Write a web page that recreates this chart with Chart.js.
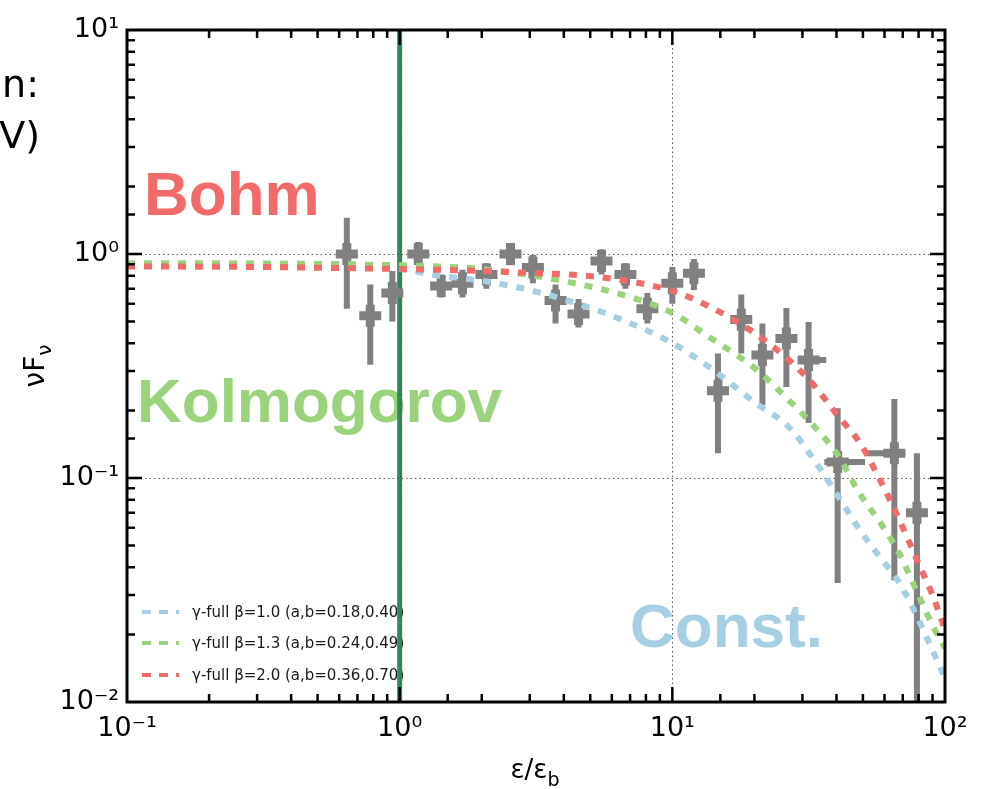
<!DOCTYPE html>
<html><head><meta charset="utf-8">
<script src="https://cdn.jsdelivr.net/npm/chart.js@4.4.1/dist/chart.umd.min.js"></script>
<style>html,body{margin:0;padding:0;background:#fff}#wrap{width:987px;height:789px;position:relative}</style>
</head><body><div id="wrap"><canvas id="c" width="987" height="789"></canvas></div>
<script>
// ---- measured data points (ε/ε_b , νFν) ----
const dataX   = [0.64, 0.78, 0.94, 1.17, 1.42, 1.70, 2.08, 2.55, 3.08, 3.73, 4.53, 5.5, 6.73, 8.1, 10.0, 12.0, 14.7, 17.9, 21.4, 26.2, 31.6, 40.4, 65.2, 78.9];
const dataY   = [1.00, 0.53, 0.67, 1.00, 0.72, 0.74, 0.81, 1.00, 0.87, 0.62, 0.54, 0.93, 0.81, 0.57, 0.74, 0.82, 0.245, 0.51, 0.354, 0.42, 0.336, 0.118, 0.129, 0.070];
const dataYLo = [0.57, 0.32, 0.50, 0.91, 0.64, 0.64, 0.70, 0.89, 0.74, 0.49, 0.47, 0.81, 0.70, 0.49, 0.60, 0.69, 0.129, 0.36, 0.212, 0.255, 0.176, 0.034, 0.035, 0.005];
const dataYHi = [1.45, 0.73, 0.84, 1.13, 0.81, 0.85, 0.91, 1.11, 0.99, 0.73, 0.63, 1.05, 0.91, 0.67, 0.875, 0.95, 0.36, 0.66, 0.49, 0.574, 0.497, 0.205, 0.225, 0.129];
const dataXLo = [0.59, 0.72, 0.87, 1.08, 1.31, 1.57, 1.92, 2.35, 2.84, 3.44, 4.18, 5.07, 6.21, 7.47, 9.22, 11.1, 13.6, 16.5, 19.7, 24.2, 29.2, 36.1, 50.9, 72.8];
const dataXHi = [0.69, 0.84, 1.02, 1.27, 1.54, 1.84, 2.25, 2.76, 3.34, 4.04, 4.91, 5.96, 7.29, 8.78, 10.8, 13.0, 15.9, 19.4, 23.2, 28.4, 36.7, 50.9, 71.5, 85.5];

// ---- model curves ----
const curveX      = [0.1, 0.3, 0.6, 1.0, 1.4, 2.0, 3.0, 4.5, 6.5, 10, 14, 20, 27, 33, 40, 49, 58, 68, 79, 90, 100];
const curveBeta10 = [0.907, 0.905, 0.90, 0.86, 0.80, 0.76, 0.69, 0.60, 0.51, 0.40, 0.306, 0.218, 0.167, 0.121, 0.085, 0.058, 0.044, 0.034, 0.024, 0.017, 0.0128];
const curveBeta13 = [0.907, 0.906, 0.90, 0.89, 0.88, 0.857, 0.806, 0.735, 0.66, 0.545, 0.417, 0.31, 0.22, 0.171, 0.129, 0.084, 0.063, 0.046, 0.031, 0.022, 0.0174];
const curveBeta20 = [0.88, 0.875, 0.866, 0.857, 0.85, 0.84, 0.823, 0.806, 0.765, 0.684, 0.574, 0.444, 0.333, 0.26, 0.193, 0.142, 0.097, 0.065, 0.043, 0.030, 0.021];

const seriesLabels = ['γ-full β=1.0 (a,b=0.18,0.40)', 'γ-full β=1.3 (a,b=0.24,0.49)', 'γ-full β=2.0 (a,b=0.36,0.70)'];
const seriesColors = ['#a6cfe4', '#9bd27c', '#f26a6a'];
const annotTexts   = ['Bohm', 'Kolmogorov', 'Const.'];
const breakValue   = 1.0;
const gridXValues  = [1, 10];
const gridYValues  = [0.1, 1];
const decadeLabels = {'-2':'10⁻²','-1':'10⁻¹','0':'10⁰','1':'10¹','2':'10²'};

function decLabel(v){
  const l = Math.log10(v), r = Math.round(l);
  if (Math.abs(l - r) < 1e-6 && decadeLabels[String(r)] !== undefined) return decadeLabels[String(r)];
  return '';
}

const deco = {
  id: 'deco',
  beforeDatasetsDraw(chart){
    const {ctx, chartArea:a, scales:{x, y}} = chart;
    ctx.save();
    // big annotation words
    ctx.font = 'bold 62px "Liberation Sans", Arial, sans-serif';
    ctx.textAlign = 'left'; ctx.textBaseline = 'alphabetic';
    ctx.fillStyle = seriesColors[2]; ctx.fillText(annotTexts[0], a.left + 17, 215);
    ctx.fillStyle = seriesColors[1]; ctx.fillText(annotTexts[1], a.left + 10, 422);
    ctx.fillStyle = seriesColors[0]; ctx.fillText(annotTexts[2], a.left + 503, 647);

    // legend (lower left, no frame)
    ctx.font = '15px "DejaVu Sans", sans-serif';
    ctx.textBaseline = 'middle';
    const rows = [612, 643, 675];
    seriesLabels.forEach((lab, i) => {
      ctx.strokeStyle = seriesColors[i]; ctx.lineWidth = 4; ctx.setLineDash([9, 8]);
      ctx.beginPath(); ctx.moveTo(a.left + 15, rows[i]); ctx.lineTo(a.left + 52, rows[i]); ctx.stroke();
      ctx.setLineDash([]);
      ctx.fillStyle = '#1a1a1a'; ctx.fillText(lab, a.left + 65, rows[i] + 1);
    });

    // vertical break line
    const bx = x.getPixelForValue(breakValue);
    ctx.strokeStyle = '#2e8b57'; ctx.lineWidth = 5;
    ctx.beginPath(); ctx.moveTo(bx, a.top); ctx.lineTo(bx, a.bottom); ctx.stroke();

    // dotted grid at decades
    ctx.strokeStyle = '#555'; ctx.lineWidth = 1; ctx.setLineDash([1.5, 3]);
    gridXValues.forEach(v => { const p = Math.round(x.getPixelForValue(v)) + 0.5;
      ctx.beginPath(); ctx.moveTo(p, a.top); ctx.lineTo(p, a.bottom); ctx.stroke(); });
    gridYValues.forEach(v => { const p = Math.round(y.getPixelForValue(v)) + 0.5;
      ctx.beginPath(); ctx.moveTo(a.left, p); ctx.lineTo(a.right, p); ctx.stroke(); });
    ctx.setLineDash([]);

    // error bars
    ctx.beginPath(); ctx.rect(a.left, a.top, a.right - a.left, a.bottom - a.top); ctx.clip();
    ctx.strokeStyle = '#808080'; ctx.lineWidth = 6; ctx.lineCap = 'butt';
    dataX.forEach((xv, i) => {
      const px = x.getPixelForValue(xv), py = y.getPixelForValue(dataY[i]);
      ctx.beginPath();
      ctx.moveTo(px, y.getPixelForValue(dataYHi[i])); ctx.lineTo(px, y.getPixelForValue(dataYLo[i]));
      ctx.moveTo(x.getPixelForValue(dataXLo[i]), py); ctx.lineTo(x.getPixelForValue(dataXHi[i]), py);
      ctx.stroke();
    });
    ctx.restore();
  },
  afterDraw(chart){
    const {ctx, chartArea:a, scales:{x, y}} = chart;
    ctx.save();
    // inside ticks on all four sides
    ctx.strokeStyle = '#000'; ctx.lineWidth = 2.5;
    x.ticks.forEach(t => {
      const v = t.value; if (v <= x.min * 1.0001 || v >= x.max * 0.9999) return;
      const maj = decLabel(v) !== ''; const L = maj ? 15 : 8; const p = x.getPixelForValue(v);
      ctx.beginPath(); ctx.moveTo(p, a.bottom); ctx.lineTo(p, a.bottom - L);
      ctx.moveTo(p, a.top); ctx.lineTo(p, a.top + L); ctx.stroke();
    });
    y.ticks.forEach(t => {
      const v = t.value; if (v <= y.min * 1.0001 || v >= y.max * 0.9999) return;
      const maj = decLabel(v) !== ''; const L = maj ? 15 : 8; const p = y.getPixelForValue(v);
      ctx.beginPath(); ctx.moveTo(a.left, p); ctx.lineTo(a.left + L, p);
      ctx.moveTo(a.right, p); ctx.lineTo(a.right - L, p); ctx.stroke();
    });
    // frame
    ctx.lineWidth = 3;
    ctx.strokeRect(a.left, a.top, a.right - a.left, a.bottom - a.top);

    // axis titles
    ctx.fillStyle = '#000';
    ctx.font = '26px "DejaVu Sans", sans-serif';
    ctx.textAlign = 'left'; ctx.textBaseline = 'alphabetic';
    const xt = 'ε/ε', xs = 'b';
    const w1 = ctx.measureText(xt).width;
    ctx.font = '19px "DejaVu Sans", sans-serif';
    const w2 = ctx.measureText(xs).width;
    const cx = (a.left + a.right) / 2 - 1;
    ctx.font = '26px "DejaVu Sans", sans-serif';
    ctx.fillText(xt, cx - (w1 + w2) / 2, 778);
    ctx.font = '19px "DejaVu Sans", sans-serif';
    ctx.fillText(xs, cx - (w1 + w2) / 2 + w1, 786);

    ctx.save();
    ctx.translate(44, 366); ctx.rotate(-Math.PI / 2);
    ctx.font = '28px "DejaVu Sans", sans-serif';
    const yt = 'νF', ys = 'ν';
    const yw1 = ctx.measureText(yt).width;
    ctx.font = '20px "DejaVu Sans", sans-serif';
    const yw2 = ctx.measureText(ys).width;
    ctx.font = '28px "DejaVu Sans", sans-serif';
    ctx.fillText(yt, -(yw1 + yw2) / 2, 0);
    ctx.font = '20px "DejaVu Sans", sans-serif';
    ctx.fillText(ys, -(yw1 + yw2) / 2 + yw1, 7);
    ctx.restore();

    // cut-off text from the neighbouring panel
    ctx.font = '38px "DejaVu Sans", sans-serif';
    ctx.textAlign = 'right';
    ctx.fillText('n:', 39, 97);
    ctx.fillText('V)', 40, 148);
    ctx.restore();
  }
};

const pts = dataX.map((v, i) => ({x: v, y: dataY[i]}));
const mk = arr => curveX.map((v, i) => ({x: v, y: arr[i]}));

new Chart(document.getElementById('c'), {
  type: 'scatter',
  data: {
    datasets: [
      {type:'line', label: seriesLabels[2], data: mk(curveBeta20), borderColor: seriesColors[2], borderWidth: 6, borderDash: [8, 9], pointRadius: 0, fill: false, cubicInterpolationMode: 'monotone', order: 1},
      {type:'line', label: seriesLabels[1], data: mk(curveBeta13), borderColor: seriesColors[1], borderWidth: 6, borderDash: [8, 9], pointRadius: 0, fill: false, cubicInterpolationMode: 'monotone', order: 2},
      {type:'line', label: seriesLabels[0], data: mk(curveBeta10), borderColor: seriesColors[0], borderWidth: 6, borderDash: [8, 9], pointRadius: 0, fill: false, cubicInterpolationMode: 'monotone', order: 3},
      {type:'scatter', label: 'data', data: pts, pointStyle: 'cross', pointRadius: 11, pointHoverRadius: 11, borderColor: '#808080', backgroundColor: '#808080', borderWidth: 9, pointBorderWidth: 9, order: 4}
    ]
  },
  options: {
    responsive: false,
    animation: false,
    devicePixelRatio: 1,
    layout: {padding: {top: 30, right: 42, left: 0, bottom: 0}},
    plugins: {legend: {display: false}, tooltip: {enabled: false}},
    events: [],
    scales: {
      x: {
        type: 'logarithmic', min: 0.1, max: 100,
        grid: {display: false, drawTicks: false}, border: {display: false},
        afterFit: s => { s.height = 87; },
        ticks: {autoSkip: false, maxRotation: 0, padding: 11, color: '#000',
          font: {family: '"DejaVu Sans", sans-serif', size: 27},
          callback: v => decLabel(v)}
      },
      y: {
        type: 'logarithmic', min: 0.01, max: 10,
        grid: {display: false, drawTicks: false}, border: {display: false},
        afterFit: s => { s.width = 127; },
        ticks: {autoSkip: false, padding: 8, color: '#000',
          font: {family: '"DejaVu Sans", sans-serif', size: 27},
          callback: v => decLabel(v)}
      }
    }
  },
  plugins: [deco]
});
</script>
</body></html>
